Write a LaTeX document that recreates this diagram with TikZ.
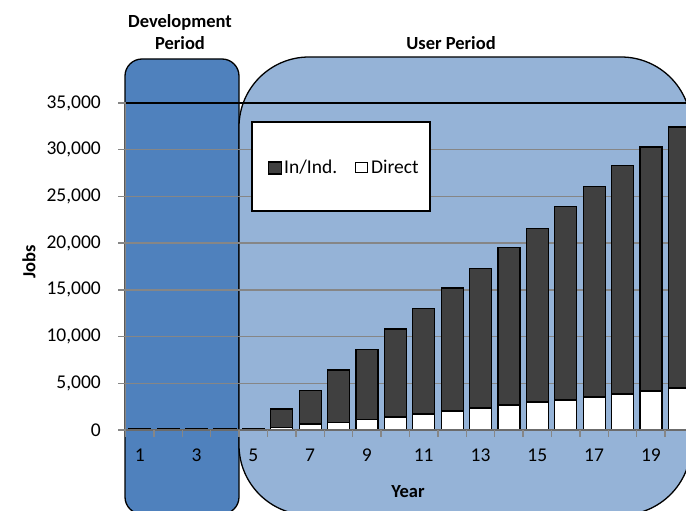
\documentclass[tikz,border=0pt]{standalone}
\usepackage{fontspec}
\setmainfont{Carlito}
\definecolor{devblue}{HTML}{4F81BD}
\definecolor{userblue}{HTML}{95B3D7}
\definecolor{darkbar}{HTML}{404040}
\definecolor{gridgray}{HTML}{868686}
\begin{document}
\begin{tikzpicture}[x=1bp,y=-1bp,
  every node/.style={font=\fontsize{19.5bp}{22bp}\selectfont, inner sep=0pt},
  devbox/.style={fill=devblue, draw=black, line width=1.3bp, rounded corners=17bp},
  userbox/.style={fill=userblue, draw=black, line width=1.3bp, rounded corners=70bp},
  gridline/.style={draw=gridgray, line width=1.5bp},
  axisline/.style={draw=gridgray!80!black, line width=2bp},
  topline/.style={draw=black, line width=2.5bp},
  dirbar/.style={fill=white, draw=black, line width=1.2bp},
  indbar/.style={fill=darkbar, draw=black, line width=1.2bp},
  legbox/.style={fill=white, draw=black, line width=2bp},
  title/.style={font=\fontsize{18.5bp}{22bp}\selectfont\bfseries, align=center},
]
\useasboundingbox (0,0) rectangle (686,511);
\clip (0,0) rectangle (686,511);
% period boxes
\draw[devbox] (125,59) rectangle (239,514);
\draw[userbox] (239,57) rectangle (691,515);
% gridlines and y ticks
\foreach \v in {0,5,...,30} {
  \pgfmathsetmacro{\yy}{430-\v*327/35}
  \draw[gridline] (118,\yy) -- (700,\yy);
}
\draw[gridline] (118,103) -- (125.5,103);
\draw[gridline] (125.5,103) -- (125.5,430);
\draw[topline] (125.5,103) -- (700,103);
% bars: year / total (k) / direct (k)
\foreach \k/\t/\d in {1/0.15/0,2/0.15/0,3/0.15/0,4/0.15/0,5/0.15/0,
  6/2.25/0.29,7/4.25/0.64,8/6.42/0.82,9/8.64/1.15,10/10.81/1.39,
  11/13.03/1.71,12/15.2/2.03,13/17.25/2.35,14/19.5/2.68,15/21.6/3.0,
  16/23.88/3.21,17/26.02/3.53,18/28.27/3.85,19/30.3/4.18,20/32.44/4.5} {
  \pgfmathsetmacro{\xc}{125.5+(\k-0.5)*28.4}
  \pgfmathsetmacro{\yt}{430-\t*327/35}
  \pgfmathsetmacro{\yd}{430-\d*327/35}
  \draw[indbar] (\xc-11,\yd) rectangle (\xc+11,\yt);
  \ifdim\d pt>0pt \draw[dirbar] (\xc-11,430) rectangle (\xc+11,\yd);\fi
}
% x axis
\draw[axisline] (125.5,430) -- (700,430);
\foreach \k in {0,...,20} {
  \pgfmathsetmacro{\xt}{125.5+\k*28.4}
  \draw[gridline] (\xt,430) -- (\xt,437);
}
\foreach \k in {1,3,...,19} {
  \pgfmathsetmacro{\xc}{125.5+(\k-0.5)*28.4}
  \node (xl\k) at (\xc,455) {\k};
}
% y labels
\foreach \v/\lab in {0/0,5/{5,000},10/{10,000},15/{15,000},20/{20,000},25/{25,000},30/{30,000},35/{35,000}} {
  \pgfmathsetmacro{\yy}{430-\v*327/35}
  \node[anchor=east] (yl\v) at (101,\yy) {\lab};
}
% titles
\node[title] (dev) at (180,32) {Development\\Period};
\node[title] (user) at (451,43) {User Period};
\node[title] (year) at (408,492) {Year};
\node[title, rotate=90] (jobs) at (29,262) {Jobs};
% legend
\draw[legbox] (252,122) rectangle (430,211);
\draw[indbar] (268.5,162) rectangle (281.5,174);
\node[anchor=base west] (l1) at (284,174) {In/Ind.};
\draw[dirbar, line width=1bp] (355.5,163) rectangle (367,173);
\node[anchor=base west] (l2) at (371,174) {Direct};
\end{tikzpicture}
\end{document}
